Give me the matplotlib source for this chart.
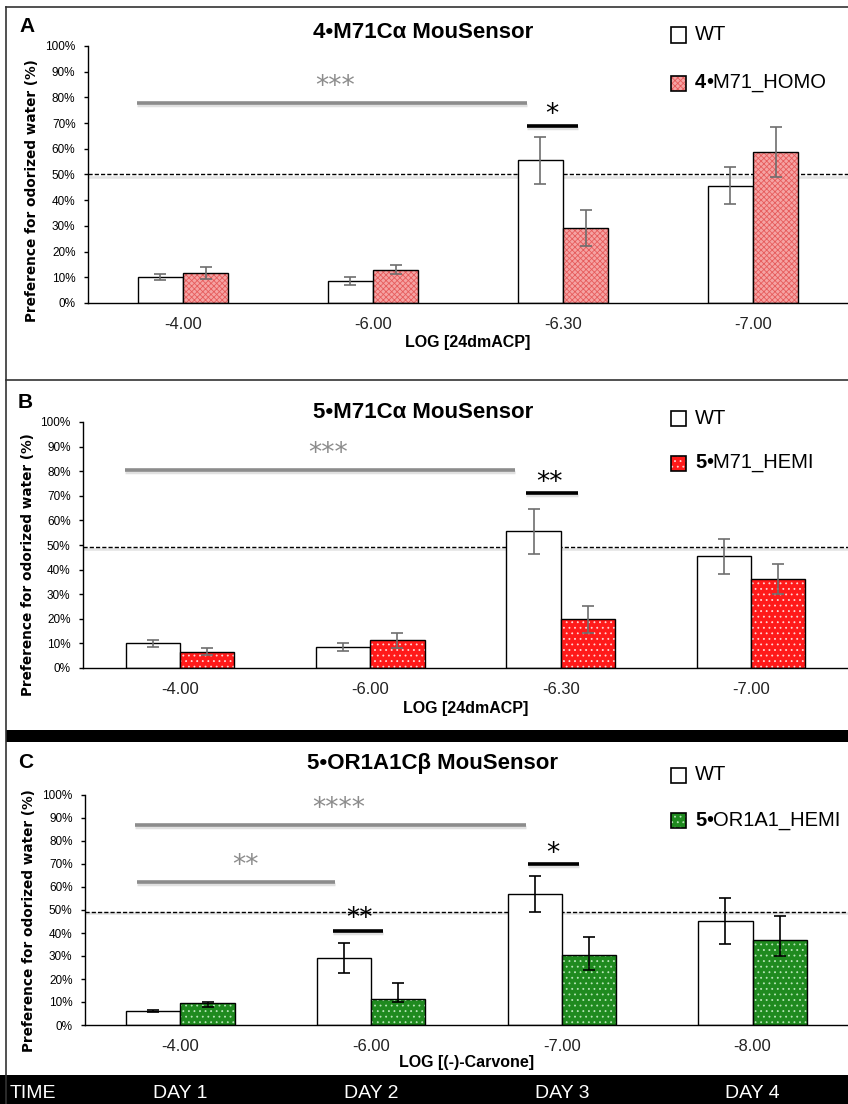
import matplotlib
matplotlib.use("Agg")
import matplotlib.pyplot as plt
from matplotlib.patches import Rectangle
from matplotlib.ticker import FuncFormatter, MultipleLocator

plt.rcParams["font.family"] = ["Liberation Sans", "DejaVu Sans"]
plt.rcParams["hatch.linewidth"] = 0.6

# ── data ──────────────────────────────────────────────────────────────────
doses_a = ["-4.00", "-6.00", "-6.30", "-7.00"]
wt_a = [10.1, 8.7, 55.5, 45.7]
wt_a_err = [1.1, 1.6, 9.2, 7.3]
homo_a = [11.8, 12.9, 29.1, 58.8]
homo_a_err = [2.3, 1.8, 7.1, 9.6]

doses_b = ["-4.00", "-6.00", "-6.30", "-7.00"]
wt_b = [10.1, 8.5, 55.5, 45.4]
wt_b_err = [1.4, 1.7, 9.2, 7.1]
hemi_b = [6.7, 11.2, 19.8, 36.1]
hemi_b_err = [1.3, 3.0, 5.4, 6.0]

doses_c = ["-4.00", "-6.00", "-7.00", "-8.00"]
wt_c = [6.0, 29.1, 57.0, 45.3]
wt_c_err = [0.5, 6.6, 7.8, 10.0]
hemi_c = [9.6, 11.4, 30.3, 37.0]
hemi_c_err_low = [1.9, 1.3, 6.3, 7.0]
hemi_c_err_high = [0.6, 6.9, 7.8, 10.2]

days = ["DAY 1", "DAY 2", "DAY 3", "DAY 4"]

W, H = 848, 1104


def fx(x):
    return x / W


def fy(y):
    return 1 - y / H


fig = plt.figure(figsize=(W / 100, H / 100), dpi=100)


def make_axes(left, top, bottom):
    return fig.add_axes([fx(left), fy(bottom), (W - left) / W, (bottom - top) / H])


def draw_panel(ax, labels, wt, wt_err, mut, mut_err, face, hatch_col, hatch,
               width, err_col, ref, xlabel, ylab_x, ylab_y, xlim, lpad):
    x = list(range(len(labels)))
    xw = [i - width / 2 for i in x]
    xm = [i + width / 2 for i in x]
    ax.bar(xw, wt, width, color="white", edgecolor="black", linewidth=1.0, zorder=2)
    ax.bar(xm, mut, width, color=face, edgecolor=hatch_col, hatch=hatch,
           linewidth=0, zorder=2)
    ax.bar(xm, mut, width, fill=False, edgecolor="black", linewidth=1.0, zorder=3)
    ax.errorbar(xw, wt, yerr=wt_err, fmt="none", ecolor=err_col, elinewidth=1.2,
                capsize=4, capthick=1.2, zorder=4)
    ax.errorbar(xm, mut, yerr=mut_err, fmt="none", ecolor=err_col, elinewidth=1.2,
                capsize=4, capthick=1.2, zorder=4)
    ax.axhline(ref - 0.8, color="#e3e3e3", linewidth=1.8, zorder=1)
    ax.axhline(ref, color="black", linestyle=(0, (3, 1.5)), linewidth=1.0, zorder=1)

    ax.set_xlim(*xlim)
    ax.set_ylim(0, 100)
    ax.yaxis.set_major_locator(MultipleLocator(10))
    ax.yaxis.set_major_formatter(FuncFormatter(lambda v, p: f"{int(round(v))}%"))
    ax.set_xticks(x)
    ax.set_xticklabels(labels, fontsize=12, color="#222222")
    ax.tick_params(axis="x", length=0, pad=10)
    ax.tick_params(axis="y", length=3, width=1, pad=6, labelsize=8.5, direction="out")
    for s in ["top", "right"]:
        ax.spines[s].set_visible(False)
    ax.spines["left"].set_linewidth(1.0)
    ax.spines["bottom"].set_linewidth(1.0)
    ax.set_xlabel(xlabel, fontsize=11.5, fontweight="bold", labelpad=lpad)
    ax.set_ylabel("Preference for odorized water (%)", family="DejaVu Sans",
                  fontsize=9.8, fontweight="bold")
    ax.yaxis.set_label_coords(ylab_x, ylab_y)
    ax.patch.set_alpha(0)


def sig(ax, x0, x1, y, text, ty, tx, color):
    ax.plot([x0, x1], [y - 0.8, y - 0.8], color="#e0e0e0", linewidth=2.5,
            solid_capstyle="butt", zorder=1)
    ax.plot([x0, x1], [y, y], color=color, linewidth=2.6, solid_capstyle="butt", zorder=2)
    ax.text(tx, ty, text, color=color, ha="center", va="center", fontsize=19,
            family="DejaVu Sans")


def legend(y1, y2, label_bold, label_rest, face, hatch_col, hatch):
    for y, fill in [(y1, None), (y2, face)]:
        if fill is not None:
            fig.patches.append(Rectangle((fx(671), fy(y + 7.5)), 15 / W, 15 / H,
                                         transform=fig.transFigure, facecolor=fill,
                                         edgecolor=hatch_col, hatch=hatch, linewidth=0))
        fig.patches.append(Rectangle((fx(671), fy(y + 7.5)), 15 / W, 15 / H,
                                     transform=fig.transFigure, fill=False,
                                     edgecolor="black", linewidth=1.2))
    fig.text(fx(695), fy(y1), "WT", fontsize=14.5, va="center", ha="left")
    t = fig.text(fx(695), fy(y2), label_bold, fontsize=14.5, fontweight="bold",
                 va="center", ha="left")
    fig.canvas.draw()
    bb = t.get_window_extent()
    fig.text(bb.x1 / W, fy(y2), label_rest, fontsize=14.5, va="center", ha="left")


# ── frame lines ─────────────────────────────────────────────────────────────
def hline(y, lw, color="black"):
    fig.add_artist(plt.Line2D([fx(6), 1], [fy(y), fy(y)], transform=fig.transFigure,
                              color=color, linewidth=lw))


fig.add_artist(plt.Line2D([fx(6), fx(6)], [fy(7), 0], transform=fig.transFigure,
                          color="#333333", linewidth=1.2))
hline(7, 1.2, "#333333")
hline(380, 1.2, "#333333")
fig.patches.append(Rectangle((fx(6), fy(742)), 1, 12 / H, transform=fig.transFigure,
                             facecolor="black", edgecolor="none"))
fig.patches.append(Rectangle((0, 0), 1, 29 / H, transform=fig.transFigure,
                             facecolor="black", edgecolor="none"))

# ── panel A ────────────────────────────────────────────────────────────────
red_a, red_a_hatch = "#f5a3a3", "#e65c5c"
ax_a = make_axes(88, 46, 303)
draw_panel(ax_a, doses_a, wt_a, wt_a_err, homo_a, homo_a_err, red_a, red_a_hatch,
           "xxxxxx", 0.237, "#6e6e6e", 50, "LOG [24dmACP]", -0.065, 0.436,
           (-0.5, 3.5), 2)
sig(ax_a, -0.24, 1.81, 78, "***", 84, 0.8, "#8c8c8c")
sig(ax_a, 1.81, 2.08, 68.8, "*", 73, 1.94, "black")
fig.text(fx(423), fy(33), "4•M71Cα MouSensor", fontsize=16, fontweight="bold",
         ha="center", va="center")
fig.text(fx(19), fy(26), "A", fontsize=15, fontweight="bold", ha="left", va="center")
legend(35, 83, "4", "•M71_HOMO", red_a, red_a_hatch, "xxxxxx")

# ── panel B ────────────────────────────────────────────────────────────────
ax_b = make_axes(83, 422, 668)
draw_panel(ax_b, doses_b, wt_b, wt_b_err, hemi_b, hemi_b_err, "#ff1a1a", "#ffd6d6",
           "...", 0.285, "#6e6e6e", 49, "LOG [24dmACP]", -0.063, 0.42,
           (-0.51, 3.51), 3)
sig(ax_b, -0.29, 1.76, 80.5, "***", 87, 0.78, "#8c8c8c")
sig(ax_b, 1.82, 2.09, 71, "**", 75, 1.94, "black")
fig.text(fx(423), fy(413), "5•M71Cα MouSensor", fontsize=16, fontweight="bold",
         ha="center", va="center")
fig.text(fx(18), fy(402), "B", fontsize=15, fontweight="bold", ha="left", va="center")
legend(418, 463, "5", "•M71_HEMI", "#ff1a1a", "#ffd6d6", "...")

# ── panel C ────────────────────────────────────────────────────────────────
ax_c = make_axes(85, 795, 1025)
draw_panel(ax_c, doses_c, wt_c, wt_c_err, hemi_c, [hemi_c_err_low, hemi_c_err_high],
           "#1f8a1f", "#b8e6b8", "...", 0.285, "black", 49.3, "LOG [(-)-Carvone]",
           -0.064, 0.452, (-0.5, 3.5), 1)
sig(ax_c, -0.24, 1.81, 87, "****", 94, 0.83, "#8c8c8c")
sig(ax_c, -0.225, 0.81, 62.2, "**", 69, 0.34, "#8c8c8c")
sig(ax_c, 0.80, 1.06, 41, "**", 46, 0.94, "black")
sig(ax_c, 1.82, 2.09, 70, "*", 74.5, 1.95, "black")
fig.text(fx(433), fy(763), "5•OR1A1Cβ MouSensor", fontsize=16, fontweight="bold",
         ha="center", va="center")
fig.text(fx(18), fy(763), "C", fontsize=15, fontweight="bold", ha="left", va="center")
legend(775, 820, "5", "•OR1A1_HEMI", "#1f8a1f", "#b8e6b8", "...")

# ── time bar ───────────────────────────────────────────────────────────────
fig.text(fx(10), fy(1093), "TIME", color="white", fontsize=14, ha="left", va="center")
for i, d in enumerate(days):
    xd = ax_c.transData.transform((i, 0))[0]
    fig.text(xd / W, fy(1093), d, color="white", fontsize=14, ha="center", va="center")

fig.savefig("out.png", dpi=100)
